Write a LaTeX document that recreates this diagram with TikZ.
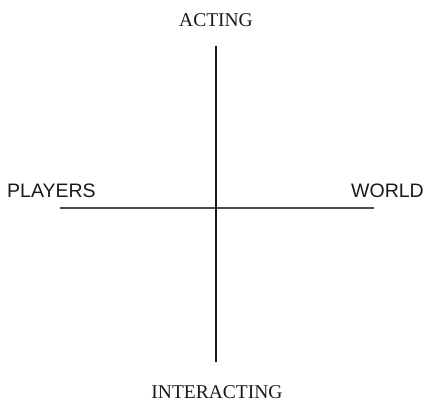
\documentclass[tikz,border=0pt]{standalone}
\usepackage{fontspec}
\setmainfont{Liberation Serif}
\setsansfont{Liberation Sans}
\usepackage{tikz}
\usetikzlibrary{positioning}
\tikzset{
  axlabel/.style={font=\fontsize{19.5}{22}\selectfont,inner sep=0pt,text=black!90},
  sidelabel/.style={font=\sffamily\fontsize{19.5}{22}\selectfont,inner sep=0pt,text=black!90},
  vaxis/.style={line width=2.4pt,draw=black!90},
  haxis/.style={line width=1.3pt,draw=gray!60!black}
}

\begin{document}
\begin{tikzpicture}[x=1pt,y=1pt]
  \useasboundingbox (0,0) rectangle (424,404);
  % axis ends
  \coordinate (up) at (216,358);
  \coordinate (down) at (216,42);
  \coordinate (left) at (60,196);
  \coordinate (right) at (374,196);
  % labels
  \node[axlabel] (acting) at (216,384) {ACTING};
  \node[axlabel] (interacting) at (217,12) {INTERACTING};
  \node[sidelabel,anchor=west] (players) at (7,213.5) {PLAYERS};
  \node[sidelabel,anchor=east] (world) at (424,213.5) {WORLD};
  % the two axes
  \draw[haxis] (left) -- (right);
  \draw[vaxis] (up) -- (down);
\end{tikzpicture}
\end{document}
